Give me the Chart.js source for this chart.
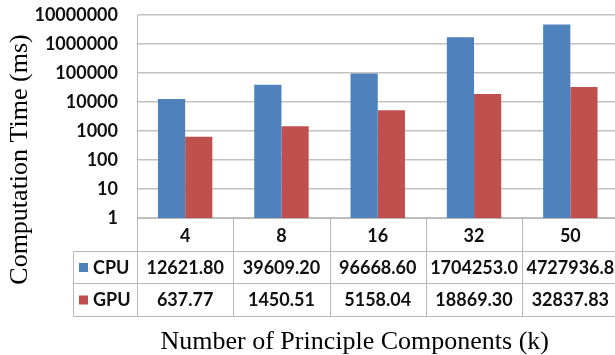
<!DOCTYPE html>
<html>
<head>
<meta charset="utf-8">
<script src="https://cdn.jsdelivr.net/npm/chart.js@4/dist/chart.umd.min.js"></script>
<style>
  html, body { margin: 0; padding: 0; background: #fff; overflow: hidden; }
  #wrap { position: relative; width: 620px; height: 355px; }
</style>
</head>
<body>
<div id="wrap"><canvas id="chart"></canvas></div>
<script>
// Principal component counts (categories)
const categories = ['4', '8', '16', '32', '50'];
// Computation time in milliseconds
const cpuTimes = [12621.80, 39609.20, 96668.60, 1704253.00, 4727936.80];
const gpuTimes = [637.77, 1450.51, 5158.04, 18869.30, 32837.83];
// Logarithmic y-axis tick values
const yTicks = [1, 10, 100, 1000, 10000, 100000, 1000000, 10000000];

const seriesNames = ['CPU', 'GPU'];
const seriesColors = ['#4f81bd', '#c0504d'];

const TICK_FONT = '"Lato", "Open Sans", sans-serif';
const TITLE_FONT = '"Liberation Serif", "Times New Roman", serif';

// Draws the data table beneath the plot plus both axis titles
const tablePlugin = {
  id: 'dataTable',
  beforeDraw(chart) {
    const ctx = chart.ctx;
    ctx.save();
    ctx.fillStyle = '#ffffff';
    ctx.fillRect(0, 0, chart.width, chart.height);
    ctx.restore();
  },
  afterDraw(chart) {
    const ctx = chart.ctx;
    const xs = chart.scales.x;
    const area = chart.chartArea;
    const colW = xs.getPixelForValue(1) - xs.getPixelForValue(0);
    const legendW = 64;
    const rowH = [33, 32, 33];
    const top = area.bottom;
    const rowsTop = [top, top + rowH[0], top + rowH[0] + rowH[1]];
    const bottom = rowsTop[2] + rowH[2];
    const tableRight = area.left + colW * categories.length;

    ctx.save();
    ctx.strokeStyle = '#b8b8b8';
    ctx.lineWidth = 1;
    const hl = (x1, x2, y) => { ctx.beginPath(); ctx.moveTo(x1, Math.round(y) + 0.5); ctx.lineTo(x2, Math.round(y) + 0.5); ctx.stroke(); };
    const vl = (x, y1, y2) => { ctx.beginPath(); ctx.moveTo(Math.round(x) + 0.5, y1); ctx.lineTo(Math.round(x) + 0.5, y2); ctx.stroke(); };

    // horizontal rules
    hl(area.left, tableRight, rowsTop[0]);
    hl(area.left - legendW, tableRight, rowsTop[1]);
    hl(area.left - legendW, tableRight, rowsTop[2]);
    hl(area.left - legendW, tableRight, bottom);
    // vertical rules
    vl(area.left - legendW, rowsTop[1], bottom);
    for (let i = 0; i <= categories.length; i++) {
      vl(area.left + colW * i, rowsTop[0], bottom);
    }

    ctx.fillStyle = '#111';
    ctx.textAlign = 'center';
    ctx.textBaseline = 'middle';
    ctx.font = 'bold 18px ' + TICK_FONT;

    const cellText = (text, cx, cy, w) => {
      let t = text;
      while (t.length > 1 && ctx.measureText(t).width > w - 4) t = t.slice(0, -1);
      ctx.fillText(t, cx, cy);
    };

    // header row: category labels
    categories.forEach((c, i) => {
      const cx = xs.getPixelForValue(i);
      cellText(c, cx, rowsTop[0] + rowH[0] / 2 + 2, colW);
    });

    // series rows
    [cpuTimes, gpuTimes].forEach((vals, r) => {
      const cy = rowsTop[r + 1] + rowH[r + 1] / 2 + 1;
      vals.forEach((v, i) => {
        const cx = xs.getPixelForValue(i);
        cellText(v.toFixed(2), cx, cy, colW);
      });
      // legend key
      const lx = area.left - legendW + 6;
      ctx.fillStyle = seriesColors[r];
      ctx.fillRect(lx, cy - 5, 9, 9);
      ctx.fillStyle = '#111';
      ctx.textAlign = 'left';
      ctx.fillText(seriesNames[r], lx + 14, cy);
      ctx.textAlign = 'center';
    });

    // axis titles
    ctx.fillStyle = '#000';
    ctx.font = '26px ' + TITLE_FONT;
    ctx.textBaseline = 'alphabetic';
    ctx.fillText('Number of Principle Components (k)', (area.left - legendW + tableRight) / 2 + 9, 349);

    ctx.save();
    ctx.translate(27, (area.top + bottom) / 2 - 6);
    ctx.rotate(-Math.PI / 2);
    ctx.textAlign = 'center';
    ctx.fillText('Computation Time (ms)', 0, 0);
    ctx.restore();

    ctx.restore();
  }
};

new Chart(document.getElementById('chart'), {
  type: 'bar',
  data: {
    labels: categories,
    datasets: [
      { label: seriesNames[0], data: cpuTimes, backgroundColor: seriesColors[0], borderWidth: 0 },
      { label: seriesNames[1], data: gpuTimes, backgroundColor: seriesColors[1], borderWidth: 0 }
    ]
  },
  options: {
    responsive: true,
    maintainAspectRatio: false,
    animation: false,
    datasets: { bar: { categoryPercentage: 0.565, barPercentage: 1.0 } },
    layout: { padding: { top: 15, left: 0, right: 1.5, bottom: 137 } },
    plugins: { legend: { display: false }, tooltip: { enabled: false }, title: { display: false } },
    scales: {
      x: {
        offset: true,
        grid: { display: false, drawTicks: false },
        border: { display: false },
        ticks: { display: false },
        afterFit(scale) { scale.height = 0; }
      },
      y: {
        type: 'logarithmic',
        min: 1,
        max: 10000000,
        afterBuildTicks(scale) { scale.ticks = yTicks.map(v => ({ value: v, major: true })); },
        afterFit(scale) { scale.width = 137; },
        grid: { color: '#c2c2c2', lineWidth: 1.5, drawTicks: true, tickLength: 16, tickColor: 'rgba(0,0,0,0)' },
        border: { display: true, color: '#b8b8b8', width: 1 },
        ticks: {
          padding: 3,
          color: '#111',
          font: { family: TICK_FONT, size: 18, weight: 'bold' },
          callback: (v) => String(v)
        }
      }
    }
  },
  plugins: [tablePlugin]
});
</script>
</body>
</html>
